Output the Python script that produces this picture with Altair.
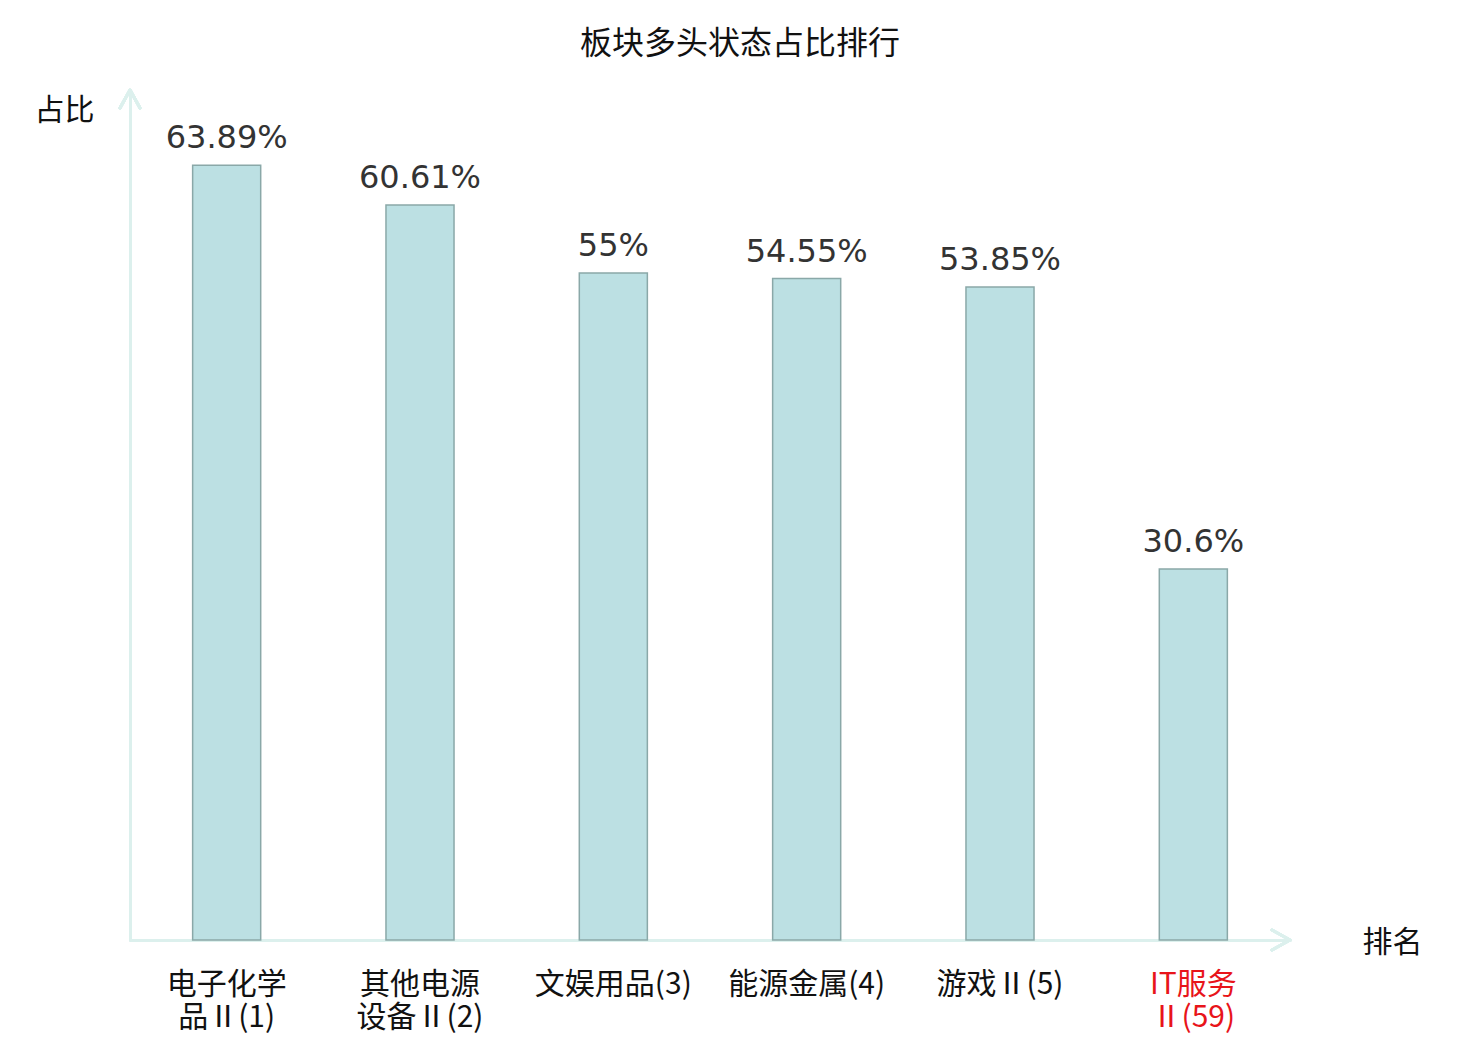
import altair as alt
import pandas as pd

categories = ["电子化学品Ⅱ(1)", "其他电源设备Ⅱ(2)", "文娱用品(3)", "能源金属(4)", "游戏Ⅱ(5)", "IT服务Ⅱ(59)"]
label_lines = [["电子化学", "品Ⅱ(1)"], ["其他电源", "设备Ⅱ(2)"], ["文娱用品(3)"], ["能源金属(4)"], ["游戏Ⅱ(5)"], ["IT服务", "Ⅱ(59)"]]
values = [63.89, 60.61, 55.0, 54.55, 53.85, 30.6]
value_labels = ["63.89%", "60.61%", "55%", "54.55%", "53.85%", "30.6%"]

df = pd.DataFrame({"cat": categories, "v": values, "lbl": value_labels})

label_map = {c: l for c, l in zip(categories, label_lines)}
label_expr = "{" + ",".join(
    "'" + c + "':[" + ",".join("'" + s + "'" for s in l) + "]" for c, l in label_map.items()
) + "}[datum.value]"

AX = "#dcf0ed"
LFONT = "Noto Sans CJK SC"

xenc = alt.X(
    "cat:N", sort=categories, title="排名",
    scale=alt.Scale(paddingInner=0.648, paddingOuter=0.324),
    axis=alt.Axis(
        labelAngle=0, labelFont=LFONT, labelFontSize=30,
        labelColor=alt.ExprRef(expr="datum.value == 'IT服务Ⅱ(59)' ? '#e8141a' : '#111111'"),
        labelExpr=label_expr, labelPadding=29, labelLineHeight=33,
        labelBaseline="top",
        ticks=False, domainColor=AX, domainWidth=3, domainCap="round",
        titleFont="Noto Sans CJK SC", titleFontSize=30, titleFontWeight="normal",
        titleColor="#111111", titleAngle=0, titleAnchor="start",
        titleX=1232, titleY=2, titleAlign="left", titleBaseline="middle",
    ),
)
yenc = alt.Y(
    "v:Q", scale=alt.Scale(domain=[0, 70.1], nice=False),
    title="占比",
    axis=alt.Axis(
        labels=False, ticks=False, grid=False, domainColor=AX, domainWidth=3, domainCap="round",
        titleFont="Noto Sans CJK SC", titleFontSize=30, titleFontWeight="normal",
        titleColor="#111111", titleAngle=0, titleX=-66, titleY=20,
        titleAlign="center", titleBaseline="middle",
    ),
)

bars = alt.Chart(df).mark_bar(
    fill="#bce0e3", stroke="#8aa8a8", strokeWidth=1.5
).encode(x=xenc, y=yenc)

texts = alt.Chart(df).mark_text(
    font="DejaVu Sans", fontSize=32, color="#333333", baseline="alphabetic", dy=-17
).encode(x=alt.X("cat:N", sort=categories), y="v:Q", text="lbl:N")

xarrow = alt.Chart(df).mark_point(
    shape="M-1.8,-1L0,0L-1.8,1", filled=False, stroke=AX, strokeWidth=3,
    strokeCap="round", strokeJoin="round", size=400, opacity=1
).encode(x=alt.value(1160), y=alt.value(850))
yarrow = alt.Chart(df).mark_point(
    shape="M-1,1.8L0,0L1,1.8", filled=False, stroke=AX, strokeWidth=3,
    strokeCap="round", strokeJoin="round", size=400, opacity=1
).encode(x=alt.value(0), y=alt.value(0))

chart = alt.layer(bars, texts, xarrow, yarrow).properties(
    width=1160, height=850,
    autosize=alt.AutoSizeParams(type="none"),
    padding={"left": 122, "top": 82, "right": 150, "bottom": 100},
    title=alt.TitleParams(
        "板块多头状态占比排行", font="Noto Sans CJK SC", fontSize=32,
        fontWeight="normal", color="#111111", anchor="middle", offset=28,
        dx=30,
    ),
).configure_view(stroke=None).configure_axis(grid=False)

chart.save("out.html", embed_options={"renderer": "svg", "actions": False})
